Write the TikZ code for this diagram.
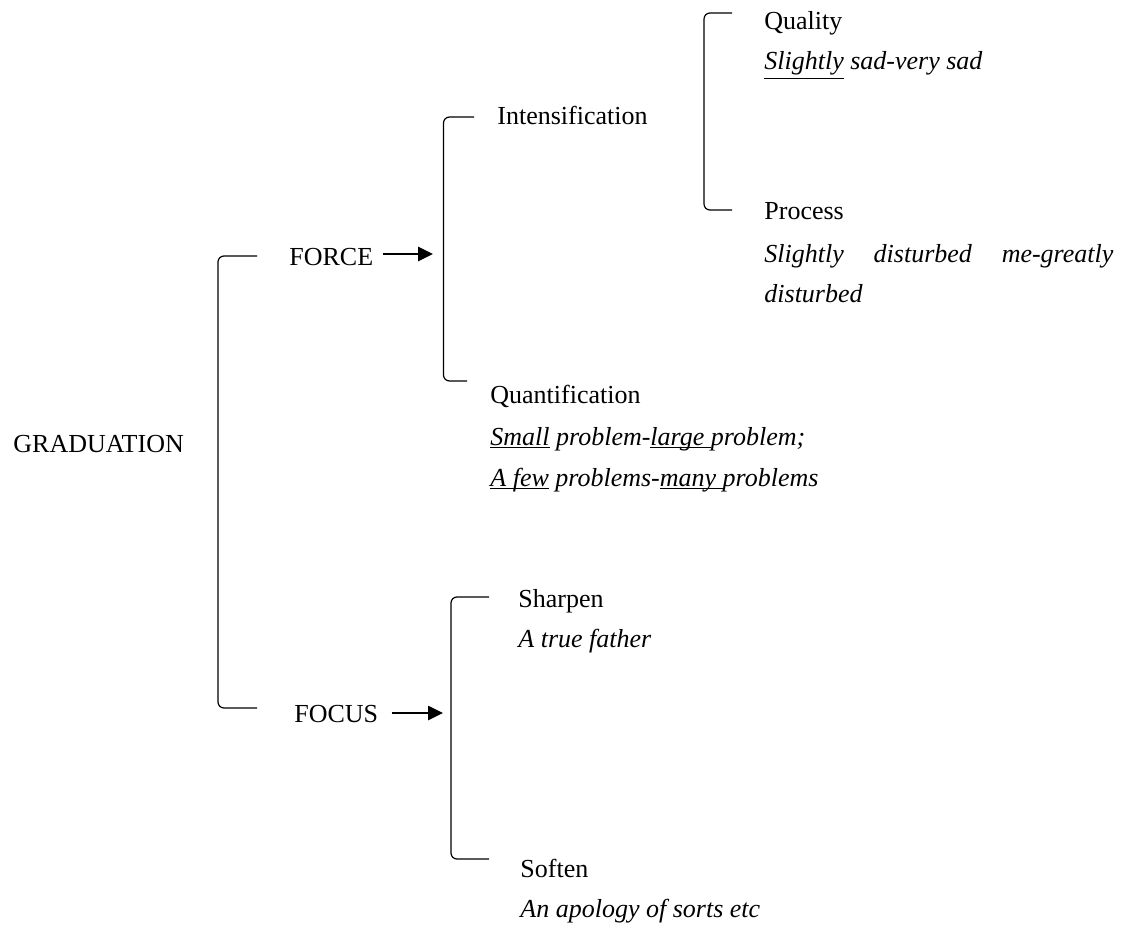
\documentclass[tikz,border=0pt]{standalone}
\usepackage{fontspec}
\setmainfont{Liberation Serif}
\usetikzlibrary{arrows.meta}
\begin{document}
\begin{tikzpicture}[x=0.5pt,y=-0.5pt,
    lbl/.style={anchor=base west,inner sep=0pt,font=\fontsize{13}{20}\selectfont},
    ex/.style={lbl,font=\fontsize{13}{20}\selectfont\itshape},
    bracket/.style={line width=0.6pt,rounded corners=3pt},
    pointer/.style={line width=1.3pt,-{Triangle[length=7.5pt,width=7pt]}}]
    \useasboundingbox (0,0) rectangle (1144,925);
    \node[lbl] (graduation) at (13,452) {GRADUATION};
    \node[lbl] (force) at (289,265) {FORCE};
    \node[lbl] (focus) at (294,722) {FOCUS};
    \node[lbl] (intens) at (497,125) {Intensification};
    \node[lbl] (quality) at (764,30) {Quality};
    \node[ex] (qualityex) at (764,70) {\underline{Slightly} sad-very sad};
    \node[lbl] (process) at (764,220) {Process};
    \node[ex,text width=174.5pt] (processexa) at (764,262) {Slightly\hfill disturbed\hfill me-greatly};
    \node[ex] (processexb) at (764,302) {disturbed};
    \node[lbl] (quant) at (490,403) {Quantification};
    \node[ex] (quantexa) at (490,445) {\underline{\smash{Small}} problem-\underline{\smash{large\ }}problem;};
    \node[ex] (quantexb) at (490,486) {\underline{\smash{A few}} problems-\underline{\smash{many\ }}problems};
    \node[lbl] (sharpen) at (518,607) {Sharpen};
    \node[ex] (sharpenex) at (518,647) {A true father};
    \node[lbl] (soften) at (520,877) {Soften};
    \node[ex] (softenex) at (520,917) {An apology of sorts etc};
    \coordinate (gtop) at (257,256);
    \coordinate (gbot) at (257,708);
    \coordinate (ftop) at (474,117);
    \coordinate (fbot) at (467,381);
    \coordinate (qtop) at (732,13);
    \coordinate (qbot) at (732,210);
    \coordinate (ctop) at (489,597);
    \coordinate (cbot) at (489,859);
    \coordinate (forcetip) at (433,254);
    \coordinate (focustip) at (443,713);
    \draw[bracket] (gtop) -- ++(-39,0) |- (gbot);
    \draw[bracket] (ftop) -- ++(-30.5,0) |- (fbot);
    \draw[bracket] (qtop) -- ++(-28,0) |- (qbot);
    \draw[bracket] (ctop) -- ++(-38,0) |- (cbot);
    \draw[pointer] (force.east |- forcetip) ++(9,0) -- (forcetip);
    \draw[pointer] (focus.east |- focustip) ++(13,0) -- (focustip);
\end{tikzpicture}
\end{document}
